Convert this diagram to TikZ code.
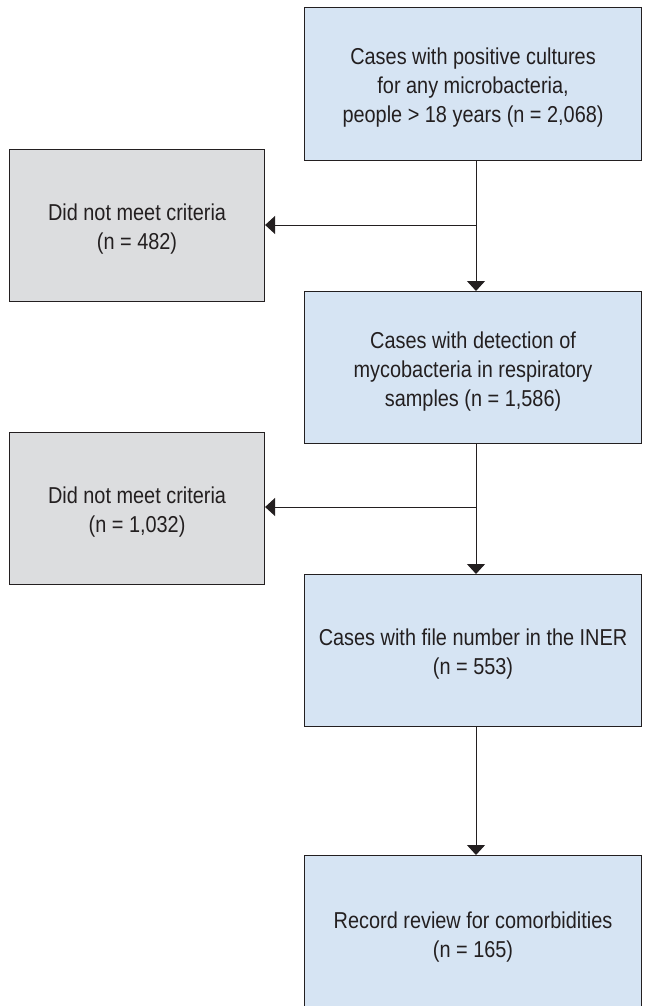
\documentclass[tikz,border=0pt]{standalone}
\usepackage{fontspec}
\setmainfont{Liberation Sans}[FakeStretch=0.865]
\usetikzlibrary{arrows.meta}
\definecolor{boxblue}{HTML}{D6E4F3}
\definecolor{boxgrey}{HTML}{DCDDDF}
\definecolor{ink}{HTML}{231F20}
\newcommand\boxtext[1]{\vbox{\vskip8pt\hbox{\begin{tabular}{@{}c@{}}#1\end{tabular}}}}
\begin{document}
\begin{tikzpicture}[x=1pt,y=-1pt,
  base/.style={draw=ink, line width=1.1pt, anchor=north west, inner sep=0pt,
    text=ink, font=\fontsize{23}{29}\selectfont},
  bluebox/.style={base, fill=boxblue, minimum width=337pt, minimum height=153pt},
  greybox/.style={base, fill=boxgrey, minimum width=255pt, minimum height=152pt},
  arr/.style={draw=ink, line width=1pt, -{Triangle[length=10pt,width=18pt]}}]
\useasboundingbox (0,0) rectangle (645,1006);
\clip (0,0) rectangle (645,1006);
\node[bluebox] (a) at (304,7) {\boxtext{Cases with positive cultures\\for any microbacteria,\\people > 18 years (n = 2,068)}};
\node[greybox] (g1) at (9,149) {\boxtext{Did not meet criteria\\(n = 482)}};
\node[bluebox, minimum height=152pt] (b) at (304,291) {\boxtext{Cases with detection of\\mycobacteria in respiratory\\samples (n = 1,586)}};
\node[greybox] (g2) at (9,432) {\boxtext{Did not meet criteria\\(n = 1,032)}};
\node[bluebox, minimum height=152pt] (c) at (304,574) {\boxtext{Cases with file number in the INER\\(n = 553)}};
\node[bluebox, minimum height=156pt] (d) at (304,855) {\boxtext{Record review for comorbidities\\(n = 165)}};
\coordinate (j1) at (476,225);
\coordinate (j2) at (476,507);
\draw[arr] (a.south -| j1) -- (b.north -| j1);
\draw[arr] (j1) -- (g1.east |- j1);
\draw[arr] (b.south -| j2) -- (c.north -| j2);
\draw[arr] (j2) -- (g2.east |- j2);
\draw[arr] (c.south -| j2) -- (d.north -| j2);
\end{tikzpicture}
\end{document}
